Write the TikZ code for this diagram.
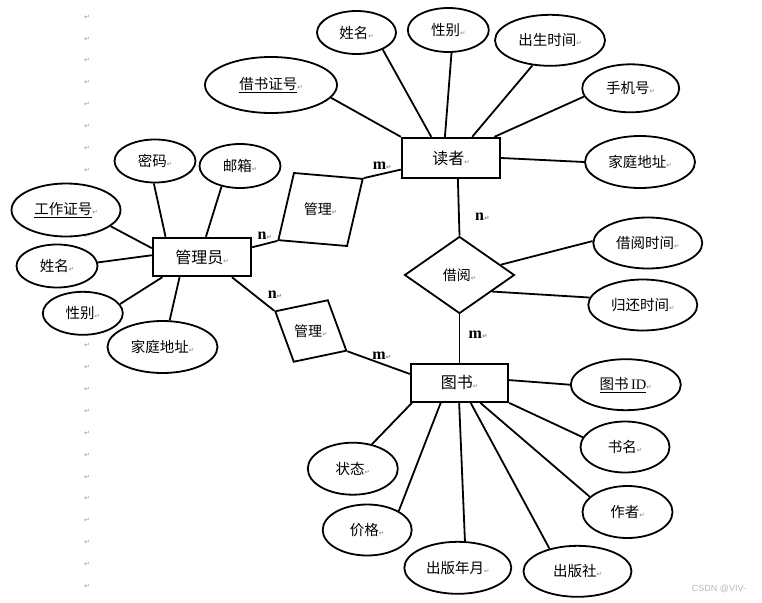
\documentclass[tikz,border=0pt]{standalone}
\usepackage{fontspec}
\setmainfont{Liberation Serif}
\newfontfamily\cjk{Noto Sans CJK SC}
\newfontfamily\dejavu{DejaVu Sans}
\newfontfamily\wmfont{Liberation Sans}
\usetikzlibrary{shapes.geometric}
\newcommand\retmark{{\dejavu\fontsize{6.5}{6.5}\selectfont\textcolor{gray}{↵}}}
\begin{document}
\begin{tikzpicture}[x=1pt,y=-1pt,
    attr/.style={draw,ellipse,fill=white,line width=1.8pt,inner sep=0pt,font=\cjk\fontsize{14.5}{16}\selectfont},
    ent/.style={draw,fill=white,line width=2.4pt,inner sep=0pt,font=\cjk\fontsize{16}{18}\selectfont},
    rel/.style={draw,diamond,fill=white,line width=1.8pt,inner sep=0pt,font=\cjk\fontsize{14}{16}\selectfont},
    card/.style={font=\bfseries\fontsize{16}{16}\selectfont},
    link/.style={line width=1.8pt},
    pmark/.style={text=gray!80,font=\dejavu\fontsize{7}{7}\selectfont,inner sep=0pt}]
    \fill[white] (0,0) rectangle (762,602);
    \useasboundingbox (0,0) rectangle (762,602);
    % column of paragraph marks (the others lie under the ellipses)
    \foreach \k in {0,...,7,10,15,16,...,26}
        \node[pmark] (p\k) at (87,17+21.9*\k) {↵};
    
    % entities
    \node[ent,minimum width=98,minimum height=40] (e1) at (451,158) {读者\retmark};
    \node[ent,minimum width=98,minimum height=38] (e2) at (202,257) {管理员\retmark};
    \node[ent,minimum width=97,minimum height=38] (e3) at (459.5,382.7) {图书\retmark};
    
    % relations
    \node[rel,minimum width=110,minimum height=77] (r1) at (459.5,275) {借阅\retmark};
    \node[rel,rotate=36,minimum width=105,minimum height=91] (r2) at (320.5,209.5) {\rotatebox{-36}{管理\retmark}};
    \node[rel,rotate=-29,minimum width=82,minimum height=71] (r3) at (310.8,331) {\rotatebox{29}{管理\retmark}};
    
    % attributes of the reader
    \node[attr,minimum width=132,minimum height=56] (a1) at (271,85) {\underline{借书证号}\retmark};
    \node[attr,minimum width=79,minimum height=43] (a2) at (356.5,32.5) {姓名\retmark};
    \node[attr,minimum width=81,minimum height=44] (a3) at (448.3,30) {性别\retmark};
    \node[attr,minimum width=110,minimum height=51] (a4) at (550,40.3) {出生时间\retmark};
    \node[attr,minimum width=97,minimum height=48] (a5) at (630.7,88.3) {手机号\retmark};
    \node[attr,minimum width=110,minimum height=52] (a6) at (640,162) {家庭地址\retmark};
    \node[attr,minimum width=109,minimum height=51] (a7) at (647.8,243) {借阅时间\retmark};
    \node[attr,minimum width=109,minimum height=51] (a8) at (642.8,305) {归还时间\retmark};
    
    % attributes of the admin
    \node[attr,minimum width=81,minimum height=43] (a9) at (155,161) {密码\retmark};
    \node[attr,minimum width=81,minimum height=44] (a10) at (240,166) {邮箱\retmark};
    \node[attr,minimum width=109,minimum height=53] (a11) at (66,210) {\underline{工作证号}\retmark};
    \node[attr,minimum width=81,minimum height=43] (a12) at (57,266) {姓名\retmark};
    \node[attr,minimum width=80,minimum height=43] (a13) at (82.8,313.3) {性别\retmark};
    \node[attr,minimum width=110,minimum height=52] (a14) at (162.5,347) {家庭地址\retmark};
    
    % attributes of the book
    \node[attr,minimum width=110,minimum height=51] (a15) at (625.8,384.7) {\underline{图书\,{\rmfamily ID}}\retmark};
    \node[attr,minimum width=89,minimum height=51] (a16) at (625,447) {书名\retmark};
    \node[attr,minimum width=90,minimum height=52] (a17) at (627.5,512) {作者\retmark};
    \node[attr,minimum width=108,minimum height=51] (a18) at (577.5,571.3) {出版社\retmark};
    \node[attr,minimum width=107,minimum height=52] (a19) at (457.8,567.8) {出版年月\retmark};
    \node[attr,minimum width=89,minimum height=51] (a20) at (367.2,530) {价格\retmark};
    \node[attr,minimum width=90,minimum height=52] (a21) at (352.8,468.7) {状态\retmark};
    
    \path[link] (a1.348) edge (e1.north west);
    \path[link] (a2.327) edge (e1.133);
    \path[link] (a3.278) edge (e1.106);
    \path[link] (a4.235) edge (e1.45);
    \path[link] (a5.190) edge (e1.26);
    \path[link] (e1.east) edge (a6.west);
    
    \path[link] (a9.267) edge (e2.151);
    \path[link] (a10.228) edge (e2.79);
    \path[link] (a11.340) edge (e2.170);
    \path[link] (a12.5) edge (e2.178);
    \path[link] (a13.14) edge (e2.207);
    \path[link] (a14.75) edge (e2.222);
    
    \path[link] (e2.11) edge node[card,above] {n\retmark} (r2.west);
    \path[link] (r2.east) edge node[card,above] {m\retmark} (e1.193);
    \path[link] (e2.326) edge node[card,above right,pos=0.75] {n\retmark} (r3.west);
    \path[link] (r3.east) edge node[card,above,pos=0.55] {m\retmark} (e3.170);
    \path[link] (e1.288) edge node[card,right=12pt,pos=0.67] {n\retmark} (r1.north);
    \path[link] (r1.south) edge node[card,right=5pt,pos=0.43] {m\retmark} (e3.north);
    \path[link] (r1.14) edge (a7.178);
    \path[link] (r1.333) edge (a8.172);
    
    \path[link] (e3.3) edge (a15.west);
    \path[link] (e3.south east) edge (a16.167);
    \path[link] (e3.316) edge (a17.158);
    \path[link] (e3.299) edge (a18.141);
    \path[link] (e3.269) edge (a19.75);
    \path[link] (e3.227) edge (a20.31);
    \path[link] (e3.203) edge (a21.52);
    
    \node[text=gray!55,font=\wmfont\fontsize{9}{9}\selectfont] (wm) at (719,588.5) {CSDN @VIV-};
\end{tikzpicture}
\end{document}
